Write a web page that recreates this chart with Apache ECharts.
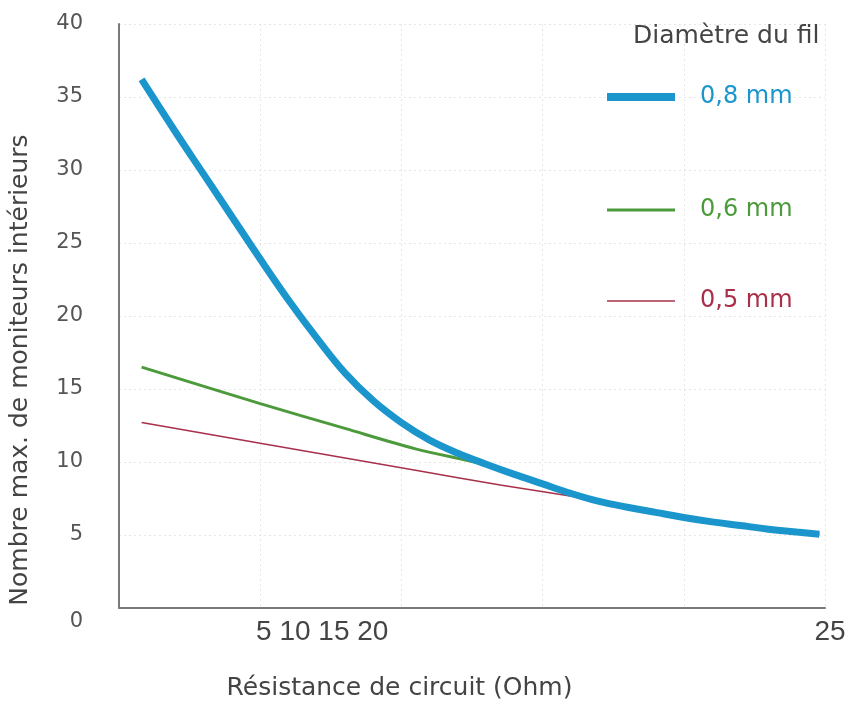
<!DOCTYPE html>
<html>
<head>
<meta charset="utf-8">
<script src="https://cdn.jsdelivr.net/npm/echarts@6/dist/echarts.min.js"></script>
<style>
  html, body { margin: 0; padding: 0; background: #fff; }
  #chart { width: 854px; height: 706px; }
</style>
</head>
<body>
<div id="chart"></div>
<script>
// valeurs
var xTicks = [0, 5, 10, 15, 20, 25];
var yTicks = [0, 5, 10, 15, 20, 25, 30, 35, 40];

var r08 = [0.8, 2, 3, 4, 5, 6, 7, 8, 9, 10, 11, 12, 13, 14, 15, 16, 17, 18, 19, 20, 21, 22, 23, 24, 24.8];
var n08 = [36.2, 32.6, 29.7, 26.8, 23.9, 21.1, 18.5, 16.1, 14.2, 12.7, 11.5, 10.6, 9.85, 9.15, 8.5, 7.85, 7.3, 6.9, 6.55, 6.2, 5.9, 5.65, 5.4, 5.2, 5.05];

var r06 = [0.8, 5, 8, 10.5, 12.9, 14, 15, 16, 17, 18, 19, 20, 21, 22, 23, 24, 24.8];
var n06 = [16.5, 14.0, 12.3, 10.9, 9.85, 9.15, 8.5, 7.85, 7.3, 6.9, 6.55, 6.2, 5.9, 5.65, 5.4, 5.2, 5.05];

var r05 = [0.8, 5, 10.5, 13.5, 16.2, 17, 18, 19, 20, 21, 22, 23, 24, 24.8];
var n05 = [12.7, 11.28, 9.43, 8.42, 7.6, 7.3, 6.9, 6.55, 6.2, 5.9, 5.65, 5.4, 5.2, 5.05];

function pairs(xs, ys) {
	var out = [];
	for (var i = 0; i < xs.length; i++) {
		out.push([xs[i], ys[i]]);
	}
	return out;
}

var font = '"DejaVu Sans", sans-serif';
var cBlue = '#1b96cd';
var cGreen = '#4c9a3c';
var cRed = '#a8304a';

var myChart = echarts.init(document.getElementById('chart'));

var option = {
	animation: false,
	title: {
		text: 'Diamètre du fil',
		left: 633,
		top: 24,
		padding: 0,
		textStyle: { fontFamily: font, fontSize: 25, fontWeight: 'normal', color: '#444' }
	},
	legend: [{
		data: ['0,8 mm'],
		left: 607, top: 85, padding: 0,
		icon: 'rect', itemWidth: 68, itemHeight: 8,
		selectedMode: false,
		textStyle: { fontFamily: font, fontSize: 24, color: cBlue, padding: [0, 0, 0, 20] }
	}, {
		data: ['0,6 mm'],
		left: 607, top: 198, padding: 0,
		icon: 'rect', itemWidth: 68, itemHeight: 3,
		selectedMode: false,
		textStyle: { fontFamily: font, fontSize: 24, color: cGreen, padding: [0, 0, 0, 20] }
	}, {
		data: ['0,5 mm'],
		left: 607, top: 289, padding: 0,
		icon: 'rect', itemWidth: 68, itemHeight: 1.5,
		selectedMode: false,
		textStyle: { fontFamily: font, fontSize: 24, color: cRed, padding: [0, 0, 0, 20] }
	}],
	grid: { left: 118, right: 29, top: 24, bottom: 98 },
	xAxis: {
		type: 'value',
		min: xTicks[0],
		max: xTicks[xTicks.length - 1],
		interval: 5,
		name: 'Résistance de circuit (Ohm)',
		nameLocation: 'middle',
		nameGap: 68,
		nameTextStyle: { fontFamily: font, fontSize: 25, color: '#444', padding: [0, 145, 0, 0] },
		axisLine: { lineStyle: { color: '#7a7a7a', width: 2 } },
		axisTick: { show: false },
		axisLabel: {
			margin: 10,
			formatter: function (v) {
				if (v === 5) return '{a|5 10 15 20}';
				if (v === 25) return '{b|25}';
				return '';
			},
			rich: {
				a: { fontFamily: '"Liberation Sans", sans-serif', fontSize: 28, color: '#444', padding: [0, 0, 0, 124] },
				b: { fontFamily: '"Liberation Sans", sans-serif', fontSize: 28, color: '#444', padding: [0, 0, 0, 10] }
			}
		},
		splitLine: { show: true, lineStyle: { color: '#e6e6e6', type: [2, 3], width: 1 } }
	},
	yAxis: {
		type: 'value',
		min: yTicks[0],
		max: yTicks[yTicks.length - 1],
		interval: 5,
		name: 'Nombre max. de moniteurs intérieurs',
		nameLocation: 'middle',
		nameGap: 86,
		nameTextStyle: { fontFamily: font, fontSize: 25, color: '#444', padding: [0, 108, 0, 0] },
		axisLine: { show: true, lineStyle: { color: '#7a7a7a', width: 2 } },
		axisTick: { show: false },
		axisLabel: {
			margin: 36,
			fontFamily: font, fontSize: 21, color: '#555',
			formatter: function (v) {
				return v === 0 ? '{z|0}' : String(v);
			},
			rich: {
				z: { fontFamily: font, fontSize: 21, color: '#555', padding: [28, 0, 0, 0] }
			}
		},
		splitLine: { show: true, lineStyle: { color: '#e6e6e6', type: [2, 3], width: 1 } }
	},
	series: [{
		name: '0,5 mm',
		type: 'line',
		showSymbol: false,
		smooth: 0.3,
		z: 2,
		lineStyle: { color: cRed, width: 1.5 },
		itemStyle: { color: cRed },
		data: pairs(r05, n05)
	}, {
		name: '0,6 mm',
		type: 'line',
		showSymbol: false,
		smooth: 0.3,
		z: 3,
		lineStyle: { color: cGreen, width: 3 },
		itemStyle: { color: cGreen },
		data: pairs(r06, n06)
	}, {
		name: '0,8 mm',
		type: 'line',
		showSymbol: false,
		smooth: 0.4,
		z: 4,
		lineStyle: { color: cBlue, width: 7 },
		itemStyle: { color: cBlue },
		data: pairs(r08, n08)
	}]
};

myChart.setOption(option);
</script>
</body>
</html>
